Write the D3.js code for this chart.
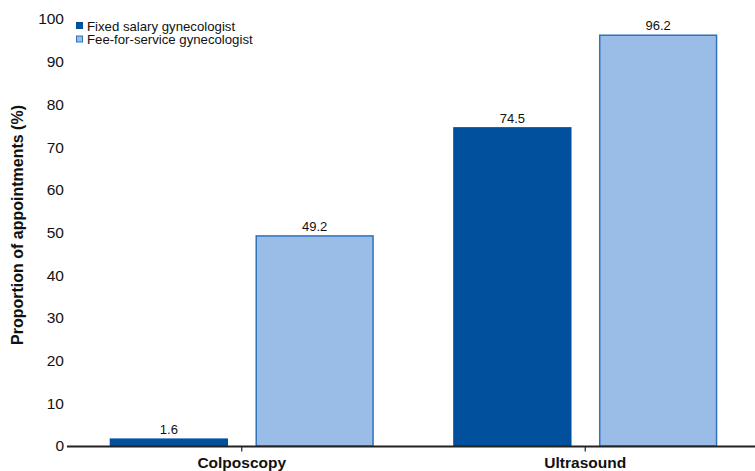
<!DOCTYPE html>
<html>
<head>
<meta charset="utf-8">
<script src="https://cdn.jsdelivr.net/npm/d3@7"></script>
<style>
  html, body { margin: 0; padding: 0; background: #fff; }
  svg { display: block; font-family: "Liberation Sans", Arial, Helvetica, sans-serif; }
</style>
</head>
<body>
<svg id="chart" width="755" height="471"></svg>
<script>
// Appointment proportions by procedure and payment type
const categories = ["Colposcopy", "Ultrasound"];
const seriesNames = ["Fixed salary gynecologist", "Fee-for-service gynecologist"];
const fixedSalary = [1.6, 74.5];
const feeForService = [49.2, 96.2];
const yTicks = [0, 10, 20, 30, 40, 50, 60, 70, 80, 90, 100];

const fills = ["#00509e", "#99bde6"];
const strokes = ["#00509e", "#2f72bd"];

const svg = d3.select("#chart");

const x = d3.scaleBand().domain(categories).range([70, 757]).paddingInner(0).paddingOuter(0);
const xs = d3.scaleBand().domain(seriesNames).range([0, x.bandwidth()])
  .paddingInner(28 / 146).paddingOuter(40 / 146);
const y = d3.scaleLinear().domain([0, 100]).range([446, 19]);

const rows = categories.map((c, i) => ({
  cat: c,
  vals: [fixedSalary[i], feeForService[i]]
}));

// Bars
const groups = svg.selectAll("g.cat").data(rows).join("g")
  .attr("class", "cat")
  .attr("transform", d => `translate(${x(d.cat)},0)`);

groups.selectAll("rect").data(d => d.vals.map((v, j) => ({ v, j }))).join("rect")
  .attr("x", d => xs(seriesNames[d.j]) + 0.5)
  .attr("y", d => y(d.v))
  .attr("width", xs.bandwidth() - 1)
  .attr("height", d => y(0) - y(d.v))
  .attr("fill", d => fills[d.j])
  .attr("stroke", d => strokes[d.j])
  .attr("stroke-width", 1.5);

// Value labels
groups.selectAll("text.val").data(d => d.vals.map((v, j) => ({ v, j }))).join("text")
  .attr("class", "val")
  .attr("x", d => xs(seriesNames[d.j]) + xs.bandwidth() / 2)
  .attr("y", d => y(d.v) - 5)
  .attr("text-anchor", "middle")
  .attr("font-size", 13)
  .attr("fill", "#111")
  .text(d => d.v.toFixed(1));

// Y axis (labels only, no domain line)
const yAxis = svg.append("g")
  .attr("transform", "translate(66,0)")
  .call(d3.axisLeft(y).tickValues(yTicks).tickSize(0).tickPadding(2));
yAxis.select(".domain").remove();
yAxis.selectAll("text").attr("font-size", 15.5).attr("fill", "#111")
  .style("font-family", "Liberation Sans, Arial, sans-serif");

// X axis
const xAxis = svg.append("g")
  .attr("transform", "translate(0,446.5)")
  .call(d3.axisBottom(x).tickSizeInner(5).tickSizeOuter(0).tickPadding(5.5));
xAxis.select(".domain").attr("stroke", "#222").attr("stroke-width", 2)
  .attr("d", "M67,0H757");
xAxis.selectAll(".tick line").attr("stroke", "#222").attr("stroke-width", 1.2);
xAxis.selectAll("text").attr("font-size", 15.5).attr("font-weight", "bold").attr("fill", "#111")
  .style("font-family", "Liberation Sans, Arial, sans-serif");

// Y axis title
svg.append("text")
  .attr("transform", "translate(23,225) rotate(-90)")
  .attr("text-anchor", "middle")
  .attr("font-size", 16)
  .attr("font-weight", "bold")
  .attr("fill", "#111")
  .text("Proportion of appointments (%)");

// Legend
const legend = svg.append("g").attr("transform", "translate(76,21)");
seriesNames.forEach((name, i) => {
  const g = legend.append("g").attr("transform", `translate(0,${i * 13.5})`);
  g.append("rect").attr("x", 0.5).attr("y", 1.5).attr("width", 6).attr("height", 6)
    .attr("fill", fills[i]).attr("stroke", strokes[i]).attr("stroke-width", 1);
  g.append("text").attr("x", 11).attr("y", 9.5)
    .attr("font-size", 13.2).attr("fill", "#111").text(name);
});
</script>
</body>
</html>
